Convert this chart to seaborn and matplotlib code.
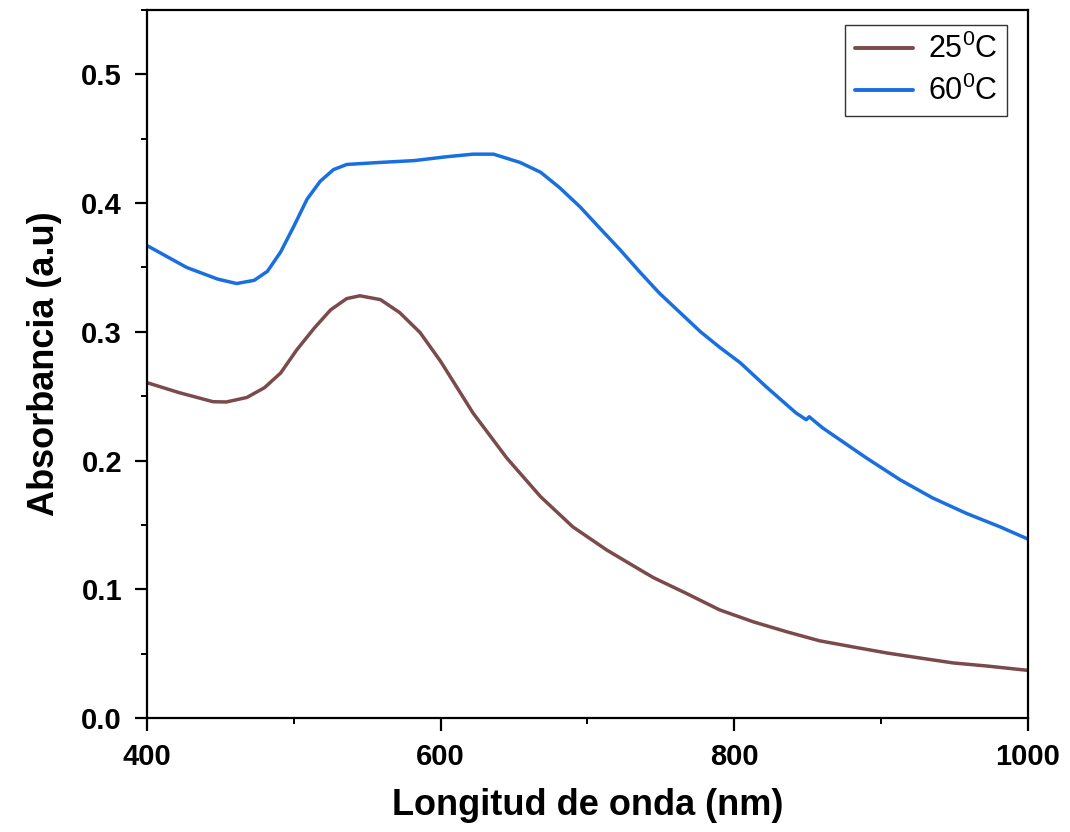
import matplotlib
matplotlib.use("Agg")
import matplotlib.pyplot as plt
from matplotlib.ticker import MultipleLocator
import seaborn as sns
import pandas as pd

# ---- data ----
wl_25 = [400, 422, 445, 454, 468, 480, 491, 502, 514, 525, 536, 545, 559, 572, 586,
         600, 622, 645, 668, 690, 713, 736, 745, 767, 790, 813, 836, 858, 881, 904,
         926, 949, 972, 1000]
abs_25 = [0.2605, 0.2527, 0.2457, 0.2455, 0.249, 0.2566, 0.268, 0.286, 0.303, 0.317,
          0.3258, 0.328, 0.325, 0.315, 0.2994, 0.277, 0.237, 0.202, 0.172, 0.1485,
          0.1306, 0.115, 0.109, 0.097, 0.084, 0.0747, 0.0669, 0.060, 0.0552, 0.0505,
          0.0467, 0.0428, 0.0404, 0.037]

wl_60 = [400, 427, 448, 461, 473, 482, 491, 500, 509, 518, 527, 536, 559, 582, 604,
         622, 636, 654, 668, 681, 695, 708, 722, 736, 749, 763, 777, 790, 804, 822,
         842, 849, 851, 860, 867, 890, 913, 935, 958, 981, 1000]
abs_60 = [0.367, 0.350, 0.341, 0.3375, 0.340, 0.347, 0.362, 0.382, 0.403, 0.417,
          0.426, 0.430, 0.4316, 0.433, 0.436, 0.438, 0.438, 0.4316, 0.424, 0.412,
          0.397, 0.381, 0.364, 0.346, 0.330, 0.315, 0.300, 0.288, 0.276, 0.257,
          0.237, 0.2317, 0.234, 0.2255, 0.220, 0.202, 0.185, 0.171, 0.159, 0.1485,
          0.139]

labels = ["25$^{0}$C", "60$^{0}$C"]
colors = ["#7B4A4A", "#1A6FE0"]

x_ticks = [400, 600, 800, 1000]
y_ticks = [0.0, 0.1, 0.2, 0.3, 0.4, 0.5]

df = pd.concat([
    pd.DataFrame({"wl": wl_25, "abs": abs_25, "T": labels[0]}),
    pd.DataFrame({"wl": wl_60, "abs": abs_60, "T": labels[1]}),
], ignore_index=True)

sns.set_theme(style="ticks")
plt.rcParams["font.family"] = ["Liberation Sans", "DejaVu Sans"]
plt.rcParams["mathtext.default"] = "regular"
plt.rcParams["text.color"] = "black"
plt.rcParams["axes.labelcolor"] = "black"

fig = plt.figure(figsize=(10.7, 8.32), dpi=100)
ax = fig.add_axes([0.1374, 0.137, 0.8233, 0.851])

sns.lineplot(data=df, x="wl", y="abs", hue="T", palette=dict(zip(labels, colors)),
             linewidth=2.5, ax=ax, sort=False, estimator=None)

ax.set_xlim(400, 1000)
ax.set_ylim(0, 0.55)
ax.set_xticks(x_ticks)
ax.set_xticklabels([str(v) for v in x_ticks])
ax.set_yticks(y_ticks)
ax.set_yticklabels([f"{v:.1f}" for v in y_ticks])
ax.xaxis.set_minor_locator(MultipleLocator(100))
ax.yaxis.set_minor_locator(MultipleLocator(0.05))

for s in ax.spines.values():
    s.set_visible(True)
    s.set_linewidth(1.6)
    s.set_color("black")

ax.tick_params(axis="both", which="major", direction="out", length=9, width=1.6,
               pad=9, labelsize=21, colors="black")
ax.tick_params(axis="both", which="minor", direction="out", length=4.5, width=1.4,
               colors="black")
ax.tick_params(top=False, right=False, which="both")
for lab in ax.get_xticklabels() + ax.get_yticklabels():
    lab.set_fontweight("bold")

ax.set_xlabel("Longitud de onda (nm)", fontsize=26, fontweight="bold", labelpad=12,
              color="black")
ax.set_ylabel("Absorbancia (a.u)", fontsize=26, fontweight="bold", labelpad=14,
              color="black")

leg = ax.legend(loc="upper right", bbox_to_anchor=(0.976, 0.979), borderaxespad=0,
                fontsize=22, frameon=True, fancybox=False, handlelength=1.9,
                handletextpad=0.5, labelspacing=0.35, borderpad=0.3)
leg.get_frame().set_edgecolor("black")
leg.get_frame().set_linewidth(1.0)
for t in leg.get_texts():
    t.set_color("black")
for line in leg.get_lines():
    line.set_linewidth(2.8)

fig.savefig("out.png", dpi=100, facecolor="white")
